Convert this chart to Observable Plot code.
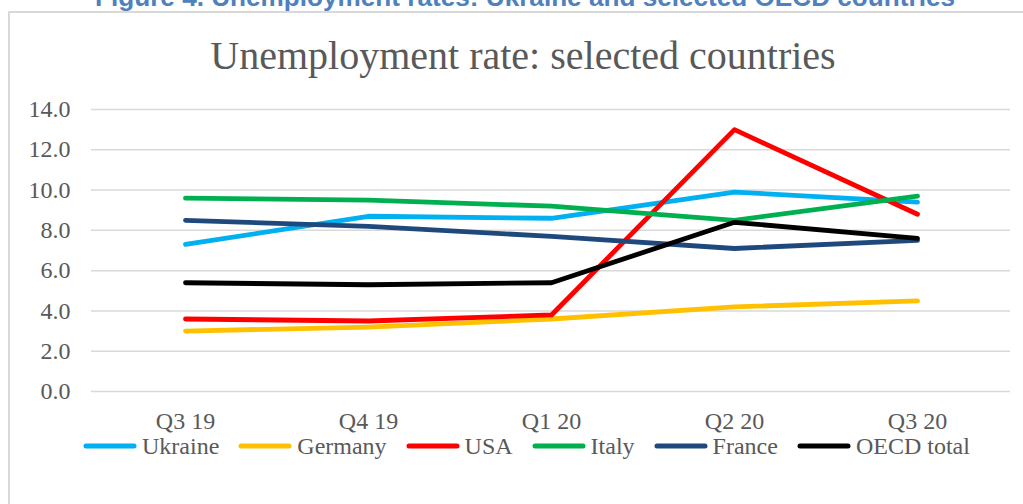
<!DOCTYPE html>
<html><head><meta charset="utf-8">
<script src="https://cdn.jsdelivr.net/npm/d3@7"></script>
<script src="https://cdn.jsdelivr.net/npm/@observablehq/plot@0.6"></script>
<style>
body{margin:0;width:1023px;height:504px;overflow:hidden;background:#fff;position:relative;font-family:"Liberation Serif",serif;}
#figtitle{position:absolute;left:0;top:0;}
#box{position:absolute;left:8px;top:11px;width:1100px;height:600px;border:2px solid #d9d9d9;box-sizing:border-box;}
#title{position:absolute;left:0;width:1046px;top:36px;text-align:center;font-size:40px;line-height:40px;color:#595959;white-space:nowrap;}
#chart{position:absolute;left:0;top:90px;}
#legend{position:absolute;left:83px;top:434px;display:flex;align-items:center;gap:19px;font-size:24px;line-height:24px;color:#595959;}
#legend .item{display:flex;align-items:center;gap:5px;}
</style>
</head><body>
<svg id="figtitle" width="1023" height="20"><text x="95" y="6" textLength="860" lengthAdjust="spacingAndGlyphs" font-family="'Liberation Sans Narrow','Liberation Sans',sans-serif" font-weight="bold" font-size="26" fill="#4F81BD">Figure 4. Unemployment rates: Ukraine and selected OECD countries</text></svg>
<div id="box"></div>
<div id="title">Unemployment rate: selected countries</div>
<div id="chart"></div>
<div id="legend"></div>
<script>
const quarters = ["Q3 19","Q4 19","Q1 20","Q2 20","Q3 20"];
const seriesNames = ["Ukraine","Germany","USA","Italy","France","OECD total"];
const seriesColors = ["#00B0F0","#FFC000","#FF0000","#00B050","#1F497D","#000000"];
const ukraine = [7.3, 8.7, 8.6, 9.9, 9.4];
const germany = [3.0, 3.2, 3.6, 4.2, 4.5];
const usa = [3.6, 3.5, 3.8, 13.0, 8.8];
const italy = [9.6, 9.5, 9.2, 8.5, 9.7];
const france = [8.5, 8.2, 7.7, 7.1, 7.5];
const oecd = [5.4, 5.3, 5.4, 8.4, 7.6];
const yTicks = [0, 2, 4, 6, 8, 10, 12, 14];

const seriesValues = [ukraine, germany, usa, italy, france, oecd];
const data = [];
seriesNames.forEach((name, k) => seriesValues[k].forEach((v, i) => data.push({q: quarters[i], v, name})));

const chart = Plot.plot({
  width: 1023, height: 346,
  marginTop: 19, marginBottom: 45, marginLeft: 91, marginRight: 13,
  style: {fontFamily: "'Liberation Serif', serif", fontSize: "24px", color: "#595959", background: "transparent"},
  x: {type: "point", domain: quarters, padding: 0.5, label: null},
  y: {domain: [0, 14], label: null},
  color: {domain: seriesNames, range: seriesColors},
  marks: [
    Plot.ruleY(yTicks, {stroke: "#d9d9d9", strokeWidth: 1.5}),
    Plot.axisY(yTicks, {tickSize: 0, tickPadding: 21, tickFormat: d => d.toFixed(1), fill: "#595959", label: null}),
    Plot.axisX(quarters, {tickSize: 0, tickPadding: 20, fill: "#595959", label: null}),
    Plot.lineY(data, {x: "q", y: "v", z: "name", stroke: "name", strokeWidth: 4.8, strokeLinecap: "round", strokeLinejoin: "round"})
  ]
});
document.getElementById("chart").appendChild(chart);

const legend = document.getElementById("legend");
seriesNames.forEach((name, i) => {
  const item = document.createElement("div");
  item.className = "item";
  item.innerHTML = `<svg width="54" height="8"><line x1="3" y1="4" x2="51" y2="4" stroke="${seriesColors[i]}" stroke-width="5" stroke-linecap="round"/></svg><span>${name}</span>`;
  legend.appendChild(item);
});
</script>
</body></html>
